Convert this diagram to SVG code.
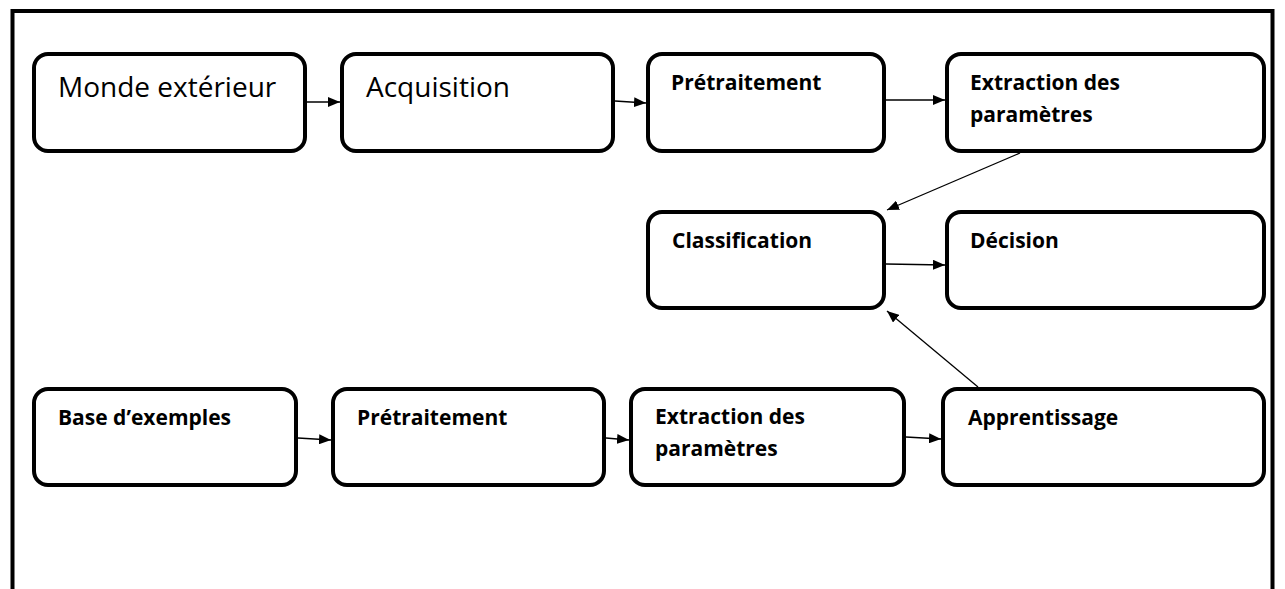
<svg xmlns="http://www.w3.org/2000/svg" width="1285" height="589" viewBox="0 0 1285 589">
  <style>
    .box { fill: #ffffff; stroke: #000000; stroke-width: 4; }
    .lbl { font-family: "Open Sans", "Liberation Sans", sans-serif; font-weight: bold; font-size: 21px; fill: #000000; }
    .big { font-family: "Open Sans", "Liberation Sans", sans-serif; font-size: 28px; fill: #000000; }
    .edge { fill: none; stroke: #000000; stroke-width: 1.3; marker-end: url(#arrow); }
  </style>
  <defs>
    <marker id="arrow" viewBox="0 0 12 10" refX="12" refY="5" markerWidth="12" markerHeight="10" markerUnits="userSpaceOnUse" orient="auto">
      <path d="M0,0 L12,5 L0,10 Z" fill="#000000"/>
    </marker>
  </defs>

  <rect width="1285" height="589" fill="#ffffff"/>
  <!-- outer frame, open at the bottom -->
  <path d="M12.5,589 V11 H1272.5 V589" fill="none" stroke="#000000" stroke-width="4"/>

  <g id="monde">
    <rect class="box" x="34" y="54" width="271" height="97" rx="14"/>
    <text class="big" x="58" y="97">Monde extérieur</text>
  </g>
  <g id="acquisition">
    <rect class="box" x="342" y="54" width="271" height="97" rx="14"/>
    <text class="big" x="366" y="97">Acquisition</text>
  </g>
  <g id="pretraitement1">
    <rect class="box" x="648" y="54" width="236" height="97" rx="14"/>
    <text class="lbl" x="671" y="90">Prétraitement</text>
  </g>
  <g id="extraction1">
    <rect class="box" x="947" y="54" width="317" height="97" rx="14"/>
    <text class="lbl" x="970" y="90">Extraction des</text>
    <text class="lbl" x="970" y="122">paramètres</text>
  </g>
  <g id="classification">
    <rect class="box" x="648" y="212" width="236" height="96" rx="14"/>
    <text class="lbl" x="672" y="248">Classification</text>
  </g>
  <g id="decision">
    <rect class="box" x="947" y="212" width="317" height="96" rx="14"/>
    <text class="lbl" x="970" y="248">Décision</text>
  </g>
  <g id="base">
    <rect class="box" x="34" y="389" width="262" height="96" rx="14"/>
    <text class="lbl" x="58" y="425">Base d’exemples</text>
  </g>
  <g id="pretraitement2">
    <rect class="box" x="333" y="389" width="271" height="96" rx="14"/>
    <text class="lbl" x="357" y="425">Prétraitement</text>
  </g>
  <g id="extraction2">
    <rect class="box" x="631" y="389" width="273" height="96" rx="14"/>
    <text class="lbl" x="655" y="424">Extraction des</text>
    <text class="lbl" x="655" y="456">paramètres</text>
  </g>
  <g id="apprentissage">
    <rect class="box" x="943" y="389" width="321" height="96" rx="14"/>
    <text class="lbl" x="968" y="425">Apprentissage</text>
  </g>

  <g id="connectors">
    <line class="edge" x1="307" y1="102" x2="340" y2="102"/>
    <line class="edge" x1="615" y1="101" x2="646" y2="103"/>
    <line class="edge" x1="886" y1="100" x2="945" y2="100"/>
    <line class="edge" x1="1020" y1="153" x2="887" y2="210"/>
    <line class="edge" x1="886" y1="264" x2="945" y2="265"/>
    <line class="edge" x1="978" y1="387" x2="887" y2="311"/>
    <line class="edge" x1="298" y1="438" x2="331" y2="440"/>
    <line class="edge" x1="606" y1="438" x2="629" y2="440"/>
    <line class="edge" x1="906" y1="437" x2="941" y2="439"/>
  </g>
</svg>
